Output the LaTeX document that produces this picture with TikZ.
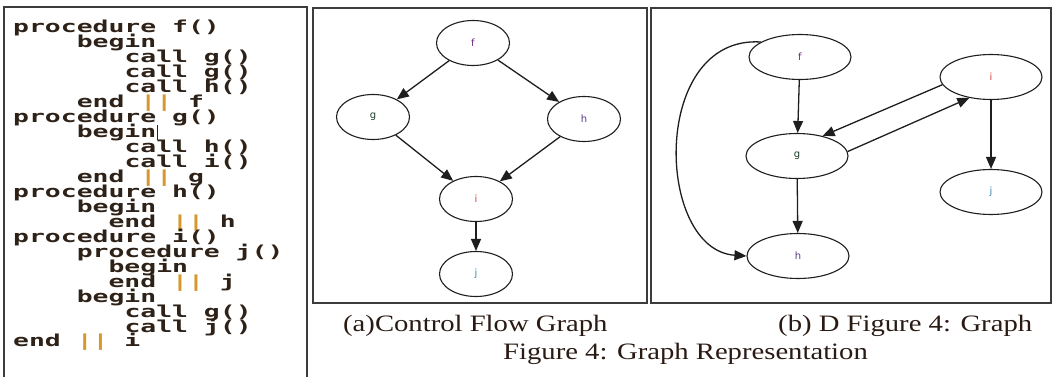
\documentclass[tikz,border=0pt]{standalone}
\usepackage{fontspec}
\usetikzlibrary{shapes.geometric,arrows.meta}
\newfontfamily\codefont[FakeStretch=1.6]{DejaVu Sans Mono Bold}
\newfontfamily\capfont[FakeStretch=1.22]{Liberation Serif}
\newfontfamily\lblfont{DejaVu Sans}
\definecolor{codecol}{HTML}{2E2218}
\definecolor{barcol}{HTML}{D9962B}
\definecolor{framecol}{HTML}{3C3C3C}
\definecolor{capcol}{HTML}{2A1A14}
\definecolor{edgecol}{HTML}{1E1E1E}
\newcommand{\barsym}{{\color{barcol}||}}
\begin{document}
\begin{tikzpicture}[x=1pt,y=-1pt,
  frame/.style={draw=framecol,line width=1.6pt},
  codeline/.style={anchor=base west,inner sep=0pt,text=codecol,font=\codefont\fontsize{16.5}{16.5}\selectfont},
  capline/.style={anchor=base west,inner sep=0pt,text=capcol,font=\capfont\fontsize{23.5}{23.5}\selectfont},
  vsmall/.style={draw=edgecol,line width=1.1pt,ellipse,inner sep=0pt,minimum width=73pt,minimum height=45pt,font=\lblfont\fontsize{10}{10}\selectfont},
  vwide/.style={vsmall,minimum width=102pt},
  edge/.style={draw=edgecol,line width=1.3pt,-{Triangle[length=12pt,width=10pt]}}
]
\fill[white] (0,0) rectangle (1053,377);
\useasboundingbox (0,0) rectangle (1053,377);

% ---------- frames ----------
\draw[frame] (4,380) -- (4,7) -- (307,7) -- (307,380);
\draw[frame] (313,8) rectangle (647,303);
\draw[frame] (651,8) rectangle (1051,303);

% ---------- code listing ----------
\node[codeline] (c1)  at (13.0,33.0)  {procedure f()};
\node[codeline] (c2)  at (76.6,47.95) {begin};
\node[codeline] (c3)  at (124.3,62.9) {call g()};
\node[codeline] (c4)  at (124.3,77.85) {call g()};
\node[codeline] (c5)  at (124.3,92.8) {call h()};
\node[codeline] (c6)  at (76.6,107.75) {end \barsym{} f};
\node[codeline] (c7)  at (13.0,122.7) {procedure g()};
\node[codeline] (c8)  at (76.6,137.65) {begin};
\node[codeline] (c9)  at (124.3,152.6) {call h()};
\node[codeline] (c10) at (124.3,167.55) {call i()};
\node[codeline] (c11) at (76.6,182.5) {end \barsym{} g};
\node[codeline] (c12) at (13.0,197.45) {procedure h()};
\node[codeline] (c13) at (76.6,212.4) {begin};
\node[codeline] (c14) at (108.4,227.35) {end \barsym{} h};
\node[codeline] (c15) at (13.0,242.3) {procedure i()};
\node[codeline] (c16) at (76.6,257.25) {procedure j()};
\node[codeline] (c17) at (108.4,272.2) {begin};
\node[codeline] (c18) at (108.4,287.15) {end \barsym{} j};
\node[codeline] (c19) at (76.6,302.1) {begin};
\node[codeline] (c20) at (124.3,317.05) {call g()};
\node[codeline] (c21) at (124.3,332.0) {call j()};
\node[codeline] (c22) at (13.0,346.95) {end \barsym{} i};
% text cursor
\coordinate (cur1) at (157,125);
\coordinate (cur2) at (157,140);
\draw[codecol,line width=0.8pt] (cur1) -- (cur2);

% ---------- (a) control flow graph ----------
\node[vsmall] (mf) at (473,43)  {\color[HTML]{6B2D7A}f};
\node[vsmall] (mg) at (373,117) {\color[HTML]{1D3D2A}g};
\node[vsmall] (mh) at (584,119) {\color[HTML]{5A3A8A}h};
\node[vsmall] (mi) at (476,199) {\color[HTML]{E04040}i};
\node[vsmall] (mj) at (476,274) {\color[HTML]{3A8AB0}j};
\draw[edge] (mf) -- (mg);
\draw[edge] (mf) -- (mh);
\draw[edge] (mg) -- (mi);
\draw[edge] (mh) -- (mi);
\draw[edge] (mi) -- (mj);

% ---------- (b) graph ----------
\node[vwide] (rf) at (800,57)  {\color[HTML]{6B2D7A}f};
\node[vwide] (rg) at (797,156) {\color[HTML]{1D3D2A}g};
\node[vwide] (rh) at (798,256) {\color[HTML]{5A3A8A}h};
\node[vwide] (ri) at (991,77)  {\color[HTML]{E04040}i};
\node[vwide] (rj) at (991,192) {\color[HTML]{3A8AB0}j};
\draw[edge] (rf) -- (rg);
\draw[edge] (rg) -- (rh);
\draw[edge] (ri.189) -- (rg.38);
\draw[edge] (rg.5) -- (ri.224);
\draw[edge] (ri) -- (rj);
\draw[edge] (rf.159) .. controls (650,35) and (655,250) .. (rh.west);

% ---------- captions ----------
\node[capline] (capa) at (343,331) {(a)Control Flow Graph};
\node[capline] (capb) at (778,331) {(b) D Figure 4: Graph};
\node[capline] (capm) at (503,359) {Figure 4: Graph Representation};
\end{tikzpicture}
\end{document}
